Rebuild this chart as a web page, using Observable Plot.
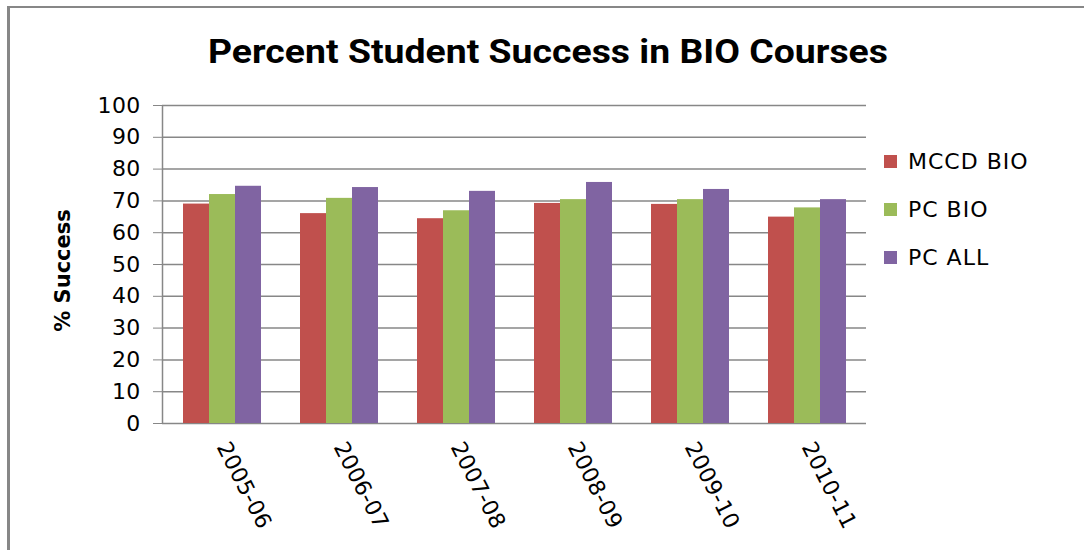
<!DOCTYPE html>
<html>
<head>
<meta charset="utf-8">
<script src="https://cdn.jsdelivr.net/npm/d3@7"></script>
<script src="https://cdn.jsdelivr.net/npm/@observablehq/plot@0.6"></script>
<style>
  html, body { margin: 0; padding: 0; background: #fff; }
  #chart { position: relative; width: 1084px; height: 550px; overflow: hidden; background: #fff; }
  #border { position: absolute; left: 7px; top: 6px; width: 1200px; height: 700px;
            border-left: 3px solid #878787; border-top: 2px solid #878787; }
  #title { position: absolute; left: 0; top: 0; }
  .layer { position: absolute; left: 0; top: 0; }
  #bg svg { color: #878787; }
  #bg svg text, #fg svg text { fill: #000; letter-spacing: 0.3px; }
  #bg g[aria-label="text"] text { letter-spacing: 0; }
  #legend { position: absolute; left: 884px; top: 0; font-family: "DejaVu Sans", sans-serif;
            font-size: 22px; letter-spacing: 1px; color: #000; }
  .item { position: absolute; left: 0; display: flex; align-items: center; white-space: nowrap; height: 24px; }
  .sw { width: 13px; height: 13px; margin-right: 11px; }
</style>
</head>
<body>
<div id="chart">
  <div id="border"></div>
  <svg id="title" width="1084" height="90">
    <text x="548" y="63" text-anchor="middle" font-family="Roboto, sans-serif" font-weight="bold"
          font-size="34" fill="#000" textLength="680" lengthAdjust="spacingAndGlyphs">Percent Student Success in BIO Courses</text>
  </svg>
  <div id="bg" class="layer"></div>
  <div id="fg" class="layer"></div>
  <div id="legend"></div>
</div>
<script>
const categories = ["2005-06", "2006-07", "2007-08", "2008-09", "2009-10", "2010-11"];
const seriesNames = ["MCCD BIO", "PC BIO", "PC ALL"];
const mccdBio = [69.0, 66.0, 64.4, 69.2, 68.9, 64.9];
const pcBio   = [72.0, 70.8, 66.9, 70.4, 70.4, 67.8];
const pcAll   = [74.6, 74.2, 73.0, 75.8, 73.6, 70.4];
const seriesColors = ["#C0504D", "#9BBB59", "#8064A2"];
const yTicks = [0, 10, 20, 30, 40, 50, 60, 70, 80, 90, 100];
const yLabel = "% Success";

const seriesValues = [mccdBio, pcBio, pcAll];
const data = [];
categories.forEach((c, i) => {
  seriesNames.forEach((s, k) => data.push({year: c, series: s, value: seriesValues[k][i]}));
});

const dims = {width: 1084, height: 550, marginLeft: 162, marginRight: 218, marginTop: 105, marginBottom: 127};

// Background layer: gridlines, y axis, baseline
const bg = Plot.plot({
  ...dims,
  style: {background: "transparent", fontFamily: "DejaVu Sans, sans-serif", fontSize: "22px"},
  x: {domain: [0, 1], axis: null},
  y: {domain: [0, 100], ticks: yTicks, tickSize: 9, tickPadding: 13, label: null},
  marks: [
    Plot.ruleY(yTicks, {stroke: "#878787", strokeWidth: 1.5}),
    Plot.ruleX([0], {stroke: "#878787", strokeWidth: 1.5}),
    Plot.text([yLabel], {text: d => d, frameAnchor: "left", textAnchor: "middle", rotate: -90, dx: -99, dy: 6,
      fontWeight: "bold", fontSize: 21, fill: "#000"})
  ]
});
document.getElementById("bg").appendChild(bg);

// Foreground layer: grouped bars and category labels
const fg = Plot.plot({
  ...dims,
  style: {background: "transparent", fontFamily: "DejaVu Sans, sans-serif", fontSize: "22px"},
  fx: {domain: categories, paddingInner: 1 / 3, paddingOuter: 1 / 6, axis: "bottom",
       tickRotate: 63, tickSize: 0, tickPadding: 20, label: null},
  x: {domain: seriesNames, padding: 0, axis: null},
  y: {domain: [0, 100], axis: null},
  color: {domain: seriesNames, range: seriesColors},
  marks: [
    Plot.barY(data, {fx: "year", x: "series", y: "value", fill: "series"})
  ]
});
document.getElementById("fg").appendChild(fg);

// Legend
const legend = document.getElementById("legend");
seriesNames.forEach((s, k) => {
  const item = document.createElement("div");
  item.className = "item";
  item.style.top = (149 + k * 48) + "px";
  const sw = document.createElement("div");
  sw.className = "sw";
  sw.style.background = seriesColors[k];
  const label = document.createElement("span");
  label.textContent = s;
  item.appendChild(sw);
  item.appendChild(label);
  legend.appendChild(item);
});
</script>
</body>
</html>
